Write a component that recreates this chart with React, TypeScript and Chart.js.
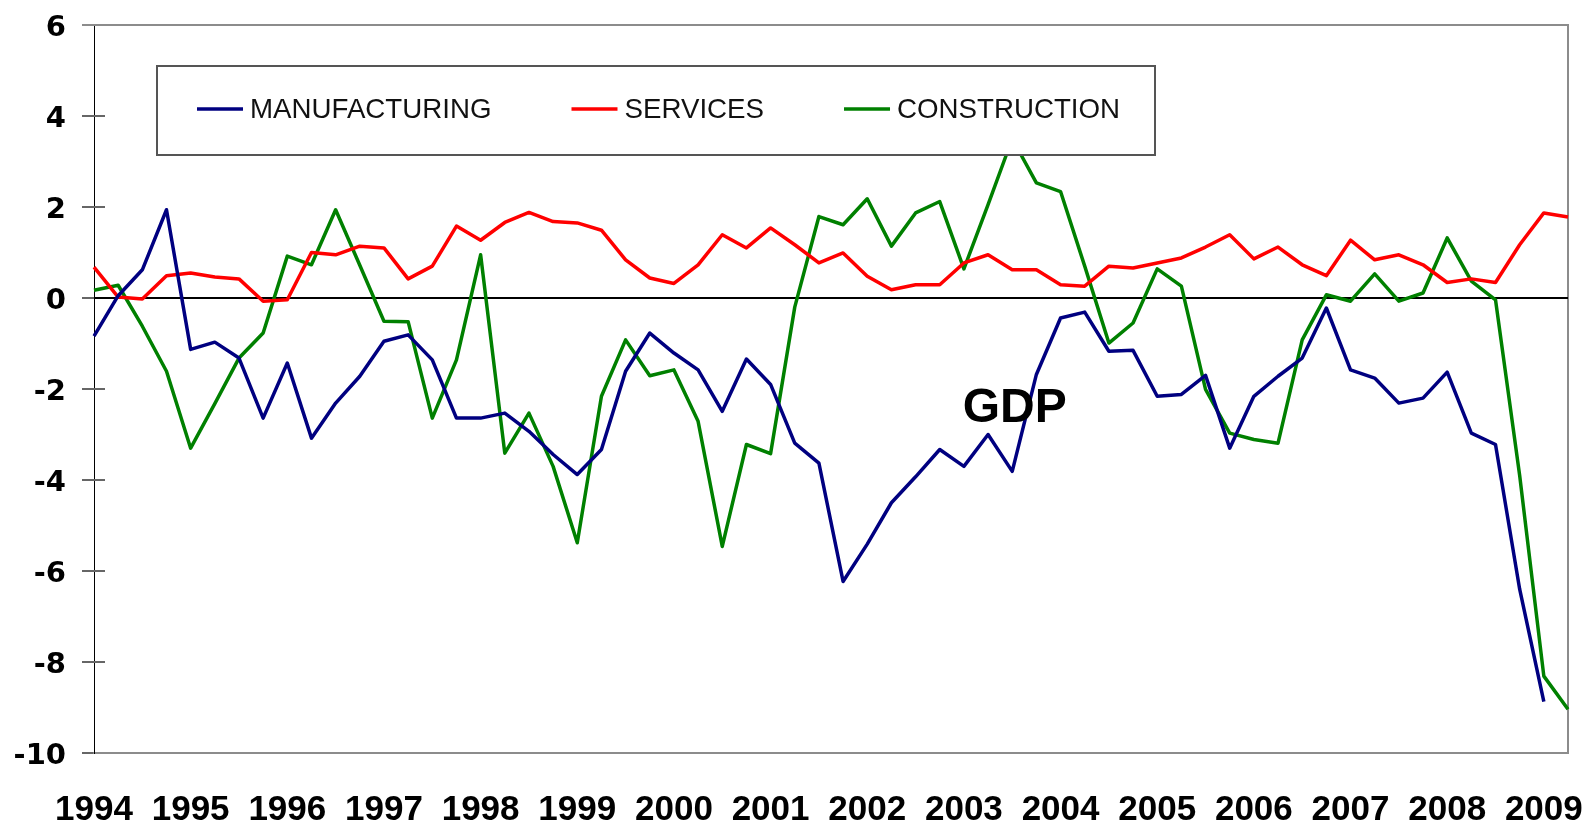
import React, { useEffect, useRef } from 'react';
import { Chart, registerables } from 'chart.js';

Chart.register(...registerables);

const years = ['1994', '1995', '1996', '1997', '1998', '1999', '2000', '2001', '2002', '2003', '2004', '2005', '2006', '2007', '2008', '2009'];
const quarterCount = 62;
const quarterLabels = Array.from({ length: quarterCount }, (_, i) => `${years[Math.floor(i / 4)]} Q${(i % 4) + 1}`);

const manufacturing = [
  -0.84, 0.05, 0.62, 1.94, -1.13, -0.97, -1.32, -2.64, -1.43, -3.08, -2.31, -1.72, -0.95, -0.81, -1.36, -2.64,
  -2.64, -2.53, -2.93, -3.44, -3.88, -3.33, -1.61, -0.77, -1.21, -1.58, -2.49, -1.34, -1.90, -3.19, -3.63, -6.23,
  -5.41, -4.50, -3.93, -3.33, -3.70, -3.00, -3.81, -1.68, -0.44, -0.31, -1.17, -1.15, -2.16, -2.12, -1.70, -3.30,
  -2.16, -1.72, -1.32, -0.22, -1.58, -1.76, -2.31, -2.20, -1.63, -2.97, -3.22, -6.40, -8.87, null,
];

const services = [
  0.68, 0.02, -0.02, 0.49, 0.55, 0.46, 0.42, -0.07, -0.04, 1.00, 0.95, 1.14, 1.10, 0.42, 0.70, 1.58,
  1.27, 1.66, 1.88, 1.68, 1.65, 1.49, 0.84, 0.44, 0.32, 0.73, 1.39, 1.10, 1.54, 1.17, 0.77, 0.99,
  0.48, 0.18, 0.29, 0.29, 0.77, 0.95, 0.62, 0.62, 0.29, 0.26, 0.70, 0.66, 0.77, 0.88, 1.12, 1.39,
  0.86, 1.12, 0.73, 0.49, 1.27, 0.84, 0.95, 0.73, 0.34, 0.42, 0.34, 1.17, 1.87, 1.78,
];

const construction = [
  0.17, 0.28, -0.62, -1.61, -3.30, -2.32, -1.32, -0.77, 0.92, 0.73, 1.94, 0.72, -0.51, -0.52, -2.64, -1.36,
  0.95, -3.41, -2.53, -3.70, -5.38, -2.16, -0.92, -1.71, -1.58, -2.71, -5.46, -3.22, -3.42, -0.20, 1.79, 1.61,
  2.18, 1.14, 1.87, 2.12, 0.64, 2.05, 3.50, 2.53, 2.34, 0.70, -0.99, -0.55, 0.64, 0.26, -2.01, -2.97,
  -3.11, -3.19, -0.92, 0.07, -0.07, 0.53, -0.07, 0.11, 1.32, 0.37, -0.04, -3.90, -8.31, -9.04,
];

const seriesNames = ['MANUFACTURING', 'SERVICES', 'CONSTRUCTION'];
const seriesColors = ['#000080', '#ff0000', '#008000'];

const yMin = -10;
const yMax = 6;
const yStep = 2;

const annotationText = 'GDP';
const annotationIndex = 38.1;
const annotationValue = -2.72;

const decorPlugin = {
  id: 'decor',
  beforeDatasetsDraw(chart: any) {
    const { ctx, chartArea: a, scales } = chart;
    const y = scales.y;
    ctx.save();
    ctx.strokeStyle = '#8c8c8c';
    ctx.lineWidth = 2;
    ctx.beginPath();
    ctx.moveTo(a.left - 12, a.top);
    ctx.lineTo(a.right, a.top);
    ctx.lineTo(a.right, a.bottom);
    ctx.stroke();
    ctx.strokeStyle = '#666';
    ctx.lineWidth = 2;
    for (let v = yMin + yStep; v < yMax; v += yStep) {
      const py = Math.round(y.getPixelForValue(v));
      ctx.beginPath();
      ctx.moveTo(a.left, py);
      ctx.lineTo(a.left + 11, py);
      ctx.stroke();
    }
    const p0 = Math.round(y.getPixelForValue(0));
    ctx.strokeStyle = '#000';
    ctx.lineWidth = 2;
    ctx.beginPath();
    ctx.moveTo(a.left, p0);
    ctx.lineTo(a.right, p0);
    ctx.stroke();
    ctx.restore();
  },
  afterDatasetsDraw(chart: any) {
    const { ctx, chartArea: a, scales } = chart;
    ctx.save();
    const lx = a.left + 63;
    const ly = a.top + 41;
    const lw = 998;
    const lh = 89;
    ctx.fillStyle = '#fff';
    ctx.fillRect(lx, ly, lw, lh);
    ctx.strokeStyle = '#555';
    ctx.lineWidth = 2;
    ctx.strokeRect(lx, ly, lw, lh);
    ctx.font = '27.7px "Liberation Sans", Arial, sans-serif';
    ctx.textBaseline = 'middle';
    ctx.textAlign = 'left';
    let x = lx + 40;
    const cy = ly + 43;
    chart.data.datasets.forEach((ds: any) => {
      ctx.strokeStyle = ds.borderColor;
      ctx.lineWidth = 3.5;
      ctx.beginPath();
      ctx.moveTo(x, cy);
      ctx.lineTo(x + 46, cy);
      ctx.stroke();
      ctx.fillStyle = '#111';
      ctx.fillText(ds.label, x + 53, cy + 1);
      x += 53 + ctx.measureText(ds.label).width + 80;
    });
    ctx.font = 'bold 48px "Liberation Sans", Arial, sans-serif';
    ctx.textAlign = 'center';
    ctx.textBaseline = 'alphabetic';
    ctx.fillStyle = '#000';
    ctx.fillText(annotationText, scales.x.getPixelForValue(annotationIndex), scales.y.getPixelForValue(annotationValue));
    ctx.restore();
  },
};

export default function App() {
  const canvasRef = useRef<HTMLCanvasElement | null>(null);

  useEffect(() => {
    if (!canvasRef.current) return;
    const seriesData = [manufacturing, services, construction];
    const chart = new Chart(canvasRef.current, {
      type: 'line',
      data: {
        labels: quarterLabels,
        datasets: seriesNames.map((name, i) => ({
          label: name,
          data: seriesData[i],
          borderColor: seriesColors[i],
          backgroundColor: seriesColors[i],
          borderWidth: 3.5,
          pointRadius: 0,
          tension: 0,
          fill: false,
          borderJoinStyle: 'round' as const,
          spanGaps: false,
        })),
      },
      options: {
        responsive: false,
        animation: false,
        devicePixelRatio: 1,
        layout: { padding: { left: 0, top: 25, right: 23, bottom: 0 } },
        plugins: {
          legend: { display: false },
          tooltip: { enabled: false },
          title: { display: false },
        },
        scales: {
          x: {
            type: 'category',
            offset: false,
            afterFit: (scale: any) => {
              scale.height = 72;
              scale.paddingLeft = 0;
              scale.paddingRight = 0;
            },
            grid: { display: true, drawOnChartArea: false, drawTicks: false, color: 'rgba(0,0,0,0)' },
            border: { display: true, color: '#8c8c8c', width: 2 },
            ticks: {
              autoSkip: false,
              maxRotation: 0,
              minRotation: 0,
              padding: 36,
              color: '#000',
              font: { family: '"Liberation Sans", Arial, sans-serif', size: 35, weight: 'bold' },
              callback: (_v: any, idx: number) => (idx % 4 === 0 ? years[idx / 4] : ''),
            },
          },
          y: {
            min: yMin,
            max: yMax,
            afterFit: (scale: any) => {
              scale.width = 94;
              scale.paddingTop = 0;
              scale.paddingBottom = 0;
            },
            grid: { display: true, drawOnChartArea: false, drawTicks: true, tickLength: 12, color: '#666', lineWidth: 2 },
            border: { display: true, color: '#000', width: 1 },
            ticks: {
              stepSize: yStep,
              padding: 16,
              labelOffset: 3,
              color: '#000',
              font: { family: '"DejaVu Sans", Verdana, sans-serif', size: 29, weight: 'bold' },
            },
          },
        },
      },
      plugins: [decorPlugin],
    });
    return () => chart.destroy();
  }, []);

  return (
    <div style={{ position: 'absolute', left: 0, top: 0, width: 1591, height: 825, background: '#fff' }}>
      <canvas ref={canvasRef} width={1591} height={825} style={{ display: 'block', width: 1591, height: 825 }} />
    </div>
  );
}
